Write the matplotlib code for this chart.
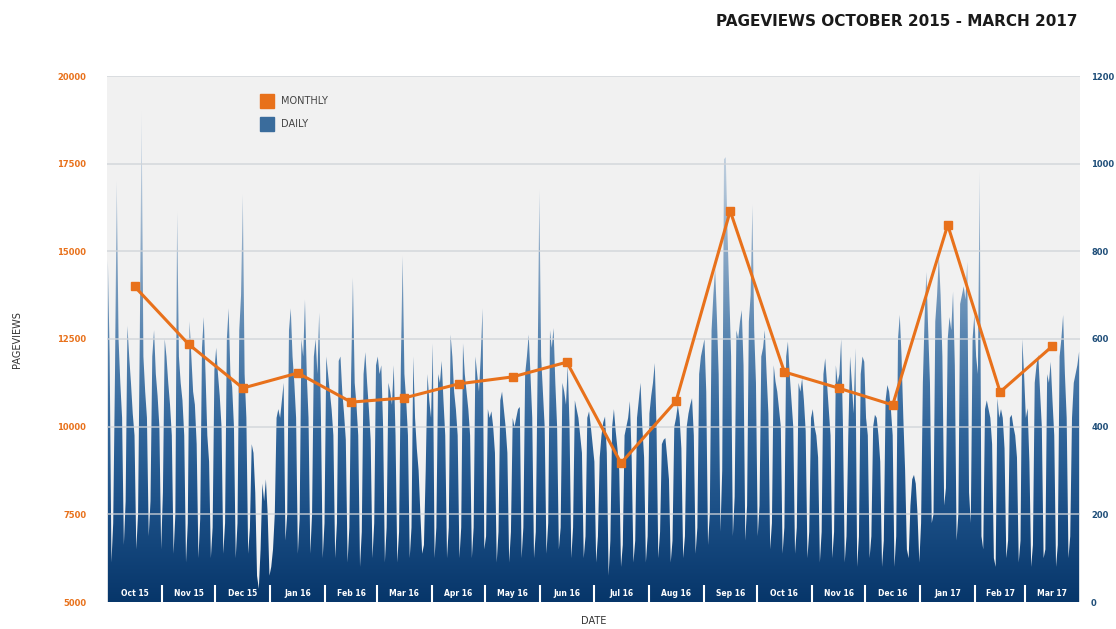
import matplotlib
matplotlib.use('Agg')

import numpy as np
import matplotlib.pyplot as plt
from matplotlib.colors import LinearSegmentedColormap
from matplotlib.patches import PathPatch
from matplotlib.lines import Line2D
import matplotlib.transforms as mtransforms

# 월별 라벨과 월간 페이지뷰 (왼쪽 축)
month_labels = ["Oct 15", "Nov 15", "Dec 15", "Jan 16", "Feb 16", "Mar 16", "Apr 16", "May 16", "Jun 16",
                "Jul 16", "Aug 16", "Sep 16", "Oct 16", "Nov 16", "Dec 16", "Jan 17", "Feb 17", "Mar 17"]
monthly = [14000, 12350, 11100, 11530, 10700, 10820, 11220, 11420, 11840,
           8960, 10730, 16150, 11560, 11100, 10620, 15750, 10990, 12300]

# 일간 페이지뷰 (오른쪽 축), 월별로 나눔
oct15 = [780, 560, 90, 180, 520, 960, 600, 500, 420, 130, 230, 630, 560, 500, 430, 380, 120, 200, 620, 1120,
         560, 480, 420, 150, 230, 560, 620, 520, 470, 400, 120]
nov15 = [250, 600, 560, 500, 450, 380, 110, 200, 890, 560, 500, 460, 380, 90, 180, 640, 560, 480, 450, 360,
         100, 190, 580, 650, 520, 380, 320, 100, 170, 530]
dec15 = [580, 520, 470, 400, 110, 180, 600, 670, 520, 490, 400, 100, 180, 620, 700, 930, 520, 420, 110, 170,
         360, 340, 250, 60, 30, 120, 270, 230, 280, 200, 60]
jan16 = [80, 120, 200, 420, 440, 420, 460, 500, 140, 200, 620, 670, 560, 500, 420, 110, 190, 600, 560, 690,
         520, 420, 110, 200, 560, 600, 520, 660, 420, 100, 180]
feb16 = [560, 520, 480, 440, 380, 100, 180, 550, 560, 480, 430, 370, 90, 170, 520, 740, 500, 450, 380, 80,
         160, 520, 570, 500, 440, 370, 100, 180, 540]
mar16 = [560, 520, 540, 400, 90, 170, 500, 480, 450, 540, 380, 90, 160, 540, 790, 520, 460, 380, 100, 170,
         560, 420, 350, 300, 200, 110, 130, 300, 520, 460, 420]
apr16 = [590, 100, 170, 520, 500, 550, 460, 380, 100, 170, 610, 560, 480, 440, 380, 100, 170, 590, 520, 480,
         440, 380, 100, 170, 560, 520, 480, 560, 670, 120]
may16 = [150, 440, 420, 435, 400, 340, 90, 160, 460, 480, 440, 400, 340, 90, 160, 420, 400, 420, 440, 445,
         100, 170, 520, 560, 610, 520, 420, 100, 160, 520, 940]
jun16 = [560, 480, 400, 110, 180, 620, 580, 625, 500, 400, 120, 170, 500, 480, 450, 540, 400, 100, 170, 460,
         440, 420, 380, 340, 100, 150, 420, 435, 400, 360]
jul16 = [320, 90, 150, 330, 380, 410, 423, 340, 60, 140, 400, 440, 390, 350, 300, 80, 130, 380, 400, 420,
         458, 330, 90, 140, 420, 460, 500, 400, 330, 90, 150]
aug16 = [430, 470, 500, 545, 400, 100, 160, 360, 370, 374, 330, 280, 90, 140, 400, 420, 450, 420, 350, 100,
         150, 400, 430, 450, 465, 380, 110, 170, 520, 560, 580]
sep16 = [600, 480, 130, 200, 620, 700, 760, 650, 520, 160, 300, 1010, 1015, 840, 700, 560, 150, 240, 620, 600,
         640, 666, 540, 140, 220, 640, 700, 906, 620, 500]
oct16 = [150, 220, 560, 580, 620, 520, 430, 120, 180, 540, 503, 480, 440, 400, 110, 170, 560, 594, 520, 460,
         400, 110, 170, 500, 480, 510, 460, 390, 100, 160, 420]
nov16 = [440, 400, 380, 330, 90, 160, 520, 556, 500, 440, 380, 100, 160, 540, 500, 520, 600, 400, 90, 150,
         380, 560, 500, 430, 579, 80, 150, 520, 560, 548]
dec16 = [420, 380, 100, 150, 400, 427, 420, 380, 320, 80, 140, 460, 495, 480, 440, 380, 80, 150, 600, 655,
         560, 420, 300, 120, 100, 220, 280, 290, 270, 200, 90]
jan17 = [180, 500, 650, 753, 620, 500, 180, 200, 640, 700, 791, 700, 560, 220, 260, 600, 650, 620, 708, 540,
         140, 200, 680, 700, 720, 690, 776, 250, 180, 600, 655]
feb17 = [560, 520, 985, 150, 120, 440, 460, 440, 420, 360, 100, 80, 465, 420, 440, 420, 350, 100, 140, 420,
         427, 400, 380, 330, 90, 140, 600, 520]
mar17 = [420, 442, 320, 80, 130, 500, 540, 564, 480, 400, 100, 120, 520, 500, 548, 460, 380, 80, 130, 560,
         600, 655, 520, 420, 100, 150, 420, 500, 520, 540, 571]

months = [oct15, nov15, dec15, jan16, feb16, mar16, apr16, may16, jun16,
          jul16, aug16, sep16, oct16, nov16, dec16, jan17, feb17, mar17]

daily = np.concatenate([np.array(m, dtype=float) for m in months])
days = np.arange(len(daily)) + 0.5
lengths = np.array([len(m) for m in months])
bounds = np.concatenate([[0], np.cumsum(lengths)])
centers = (bounds[:-1] + bounds[1:]) / 2

ORANGE = '#e8711b'
NAVY = '#1f4e79'
FONT = 'DejaVu Sans'

fig = plt.figure(figsize=(11.16, 6.29), dpi=100)
ax = fig.add_axes([107 / 1116, 27 / 629, 973 / 1116, 526 / 629])
axm = ax.twinx()  # 월간 라인용 (왼쪽 축)

ax.set_facecolor('#f1f1f1')
ax.set_xlim(0, bounds[-1])
ax.set_ylim(0, 1200)

# 그라데이션 영역 (일간)
poly = ax.fill_between(days, daily, 0, color='none', linewidth=0)
clip = PathPatch(poly.get_paths()[0], transform=ax.transData, facecolor='none', edgecolor='none')
ax.add_patch(clip)
cmap = LinearSegmentedColormap.from_list('pv', [
    (0.0, '#07366a'), (0.17, '#1b4f86'), (0.33, '#31669b'), (0.5, '#5784b0'),
    (0.67, '#8aa8c6'), (0.85, '#c2d1e0'), (1.0, '#e3e8ee')])
grad = np.linspace(0, 1, 256).reshape(-1, 1)
im = ax.imshow(grad, extent=[0, bounds[-1], 0, 1200], origin='lower', aspect='auto', cmap=cmap, zorder=2)
im.set_clip_path(clip)

# 격자선
for yv in range(200, 1201, 200):
    ax.axhline(yv, color='#cfd3d8', linewidth=1.2, alpha=0.8, zorder=3)

# 월 구분선과 라벨
trans = mtransforms.blended_transform_factory(ax.transData, ax.transAxes)
ax.vlines(bounds[1:-1], 0, 0.033, transform=trans, color='white', linewidth=1.5, zorder=4)
for c, lab in zip(centers, month_labels):
    ax.text(c, 0.016, lab, transform=trans, ha='center', va='center', color='white',
            fontsize=5.5, fontweight='bold', family=FONT, zorder=5)

# 오른쪽 축 (일간)
ax.yaxis.tick_right()
ax.set_yticks(range(0, 1201, 200))
ax.tick_params(axis='y', length=0, pad=8, labelsize=6, labelcolor=NAVY)
for t in ax.get_yticklabels():
    t.set_fontweight('bold')
    t.set_family(FONT)
ax.set_xticks([])
for s in ax.spines.values():
    s.set_visible(False)
ax.set_xlabel("DATE", fontsize=7, color='#333333', labelpad=10, family=FONT)

# 왼쪽 축 (월간)
axm.yaxis.tick_left()
axm.set_ylim(5000, 20000)
axm.set_yticks(range(5000, 20001, 2500))
axm.tick_params(axis='y', length=0, pad=15, labelsize=6, labelcolor=ORANGE)
for t in axm.get_yticklabels():
    t.set_fontweight('bold')
    t.set_family(FONT)
for s in axm.spines.values():
    s.set_visible(False)
axm.plot(centers, monthly, color=ORANGE, linewidth=2.2, marker='s', markersize=6, zorder=6)

fig.text(17 / 1116, 1 - 340 / 629, "PAGEVIEWS", rotation=90, ha='center', va='center',
         fontsize=7, color='#333333', family=FONT)

handles = [Line2D([], [], linestyle='none', marker='s', markersize=10, color=ORANGE, label='MONTHLY'),
           Line2D([], [], linestyle='none', marker='s', markersize=10, color='#3a6c9c', label='DAILY')]
leg = axm.legend(handles=handles, loc='upper left', bbox_to_anchor=(0.145, 0.978), frameon=False,
                 prop={'family': FONT, 'size': 7}, labelspacing=1.3, handletextpad=0.5)
for t in leg.get_texts():
    t.set_color('#444444')

fig.text(1078 / 1116, 1 - 22 / 629, "PAGEVIEWS OCTOBER 2015 - MARCH 2017", ha='right', va='center',
         fontsize=11, fontweight='bold', family=FONT, color='#1a1a1a')

fig.savefig("out.png", dpi=100)
